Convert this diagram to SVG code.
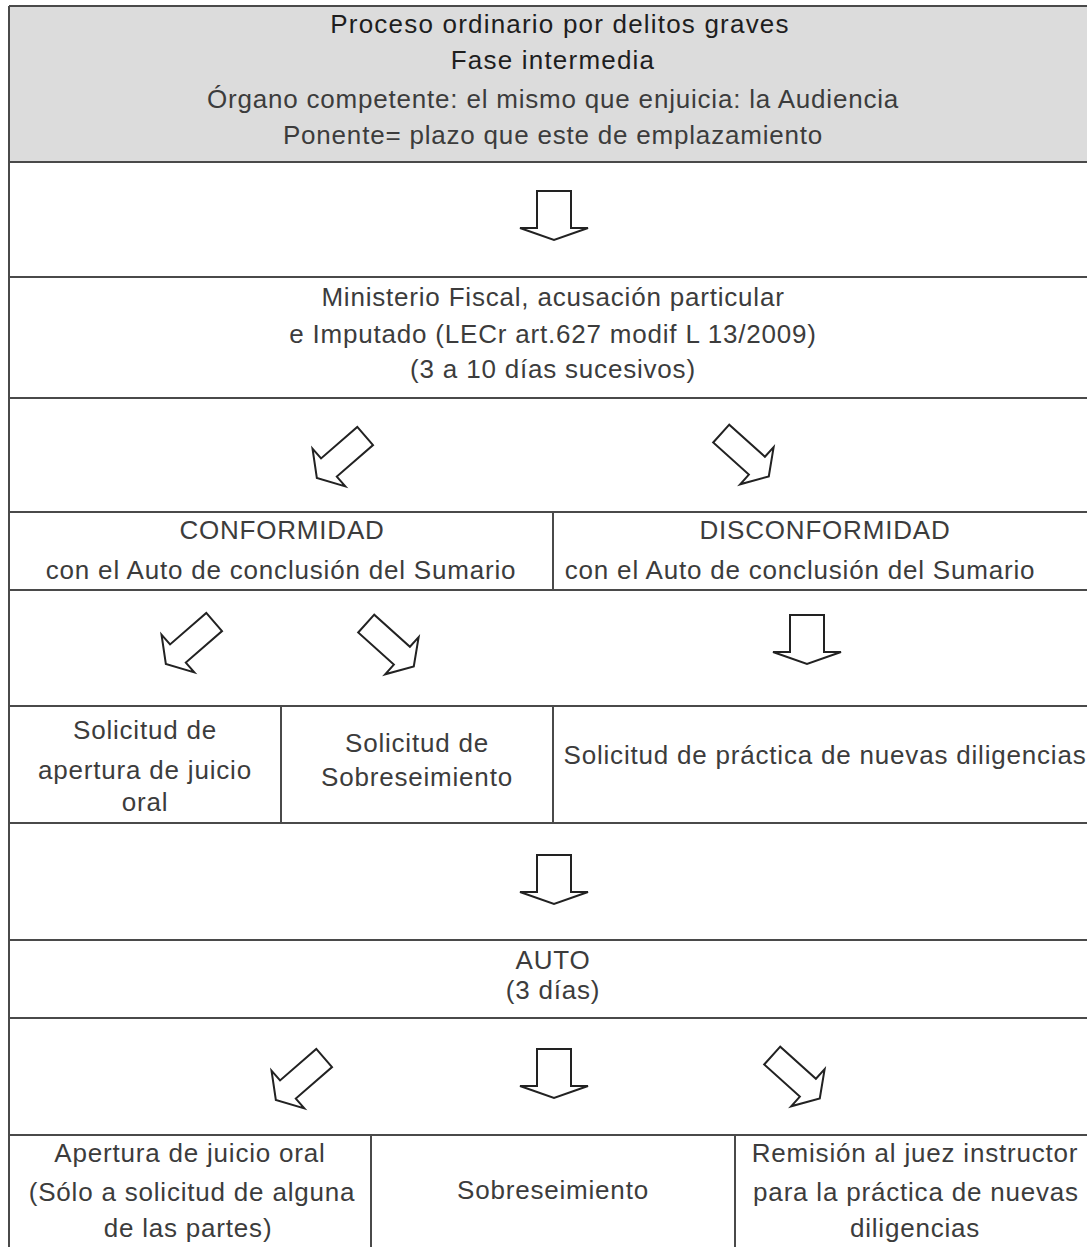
<svg xmlns="http://www.w3.org/2000/svg" width="1087" height="1247" viewBox="0 0 1087 1247">
  <style>
    .rule { stroke: #4a4a4a; stroke-width: 2; fill: none; }
    .head { fill: #dcdcdc; }
    .t { font-family: "Liberation Sans", Arial, sans-serif; font-size: 26px; fill: #3c3c3c; text-anchor: middle; letter-spacing: 0.8px; }
    .h { font-family: "Liberation Sans", Arial, sans-serif; font-size: 26px; fill: #1e1e1e; text-anchor: middle; letter-spacing: 1.2px; }
    .arrow { fill: #fff; stroke: #222; stroke-width: 2; stroke-linejoin: miter; }
  </style>
  <defs>
    <path id="down" d="M-17,-25 L17,-25 L17,12 L34,12 L0,24 L-34,12 L-17,12 Z"/>
    <path id="diag" d="M-12,-32 L12,-32 L12,16 L25,16 L0,32 L-25,16 L-12,16 Z"/>
  </defs>

  <rect width="1087" height="1247" fill="#fff"/>

  <!-- header block -->
  <g id="header">
    <rect class="head" x="9" y="6" width="1078" height="156"/>
    <text class="h" x="560" y="33">Proceso ordinario por delitos graves</text>
    <text class="h" x="553" y="69">Fase intermedia</text>
    <text class="t" x="553" y="108">Órgano competente: el mismo que enjuicia: la Audiencia</text>
    <text class="t" x="553" y="144">Ponente= plazo que este de emplazamiento</text>
  </g>

  <!-- table rules -->
  <g id="grid" class="rule">
    <line x1="9" y1="6" x2="1087" y2="6"/>
    <line x1="9" y1="6" x2="9" y2="1247"/>
    <line x1="9" y1="162" x2="1087" y2="162"/>
    <line x1="9" y1="277" x2="1087" y2="277"/>
    <line x1="9" y1="398" x2="1087" y2="398"/>
    <line x1="9" y1="512" x2="1087" y2="512"/>
    <line x1="9" y1="590" x2="1087" y2="590"/>
    <line x1="9" y1="706" x2="1087" y2="706"/>
    <line x1="9" y1="823" x2="1087" y2="823"/>
    <line x1="9" y1="940" x2="1087" y2="940"/>
    <line x1="9" y1="1018" x2="1087" y2="1018"/>
    <line x1="9" y1="1135" x2="1087" y2="1135"/>
    <line x1="553" y1="512" x2="553" y2="590"/>
    <line x1="281" y1="706" x2="281" y2="823"/>
    <line x1="553" y1="706" x2="553" y2="823"/>
    <line x1="371" y1="1135" x2="371" y2="1247"/>
    <line x1="735" y1="1135" x2="735" y2="1247"/>
  </g>

  <g id="partes">
    <text class="t" x="553" y="306">Ministerio Fiscal, acusación particular</text>
    <text class="t" x="553" y="343">e Imputado (LECr  art.627 modif L 13/2009)</text>
    <text class="t" x="553" y="378">(3 a 10 días sucesivos)</text>
  </g>

  <g id="conformidad">
    <text class="t" x="282" y="539">CONFORMIDAD</text>
    <text class="t" x="281" y="579">con el Auto de conclusión del Sumario</text>
  </g>

  <g id="disconformidad">
    <text class="t" x="825" y="539">DISCONFORMIDAD</text>
    <text class="t" x="800" y="579">con el Auto de conclusión del Sumario</text>
  </g>

  <g id="solicitud-apertura">
    <text class="t" x="145" y="739">Solicitud de</text>
    <text class="t" x="145" y="779">apertura de juicio</text>
    <text class="t" x="145" y="811">oral</text>
  </g>

  <g id="solicitud-sobreseimiento">
    <text class="t" x="417" y="752">Solicitud de</text>
    <text class="t" x="417" y="786">Sobreseimiento</text>
  </g>

  <g id="solicitud-diligencias">
    <text class="t" x="825" y="764">Solicitud de práctica de nuevas diligencias</text>
  </g>

  <g id="auto">
    <text class="t" x="553" y="969">AUTO</text>
    <text class="t" x="553" y="999">(3 días)</text>
  </g>

  <g id="apertura">
    <text class="t" x="190" y="1162">Apertura de juicio oral</text>
    <text class="t" x="192" y="1201">(Sólo a solicitud de alguna</text>
    <text class="t" x="188" y="1237">de las partes)</text>
  </g>

  <g id="sobreseimiento">
    <text class="t" x="553" y="1199">Sobreseimiento</text>
  </g>

  <g id="remision">
    <text class="t" x="915" y="1162">Remisión al juez instructor</text>
    <text class="t" x="916" y="1201">para la práctica de nuevas</text>
    <text class="t" x="915" y="1237">diligencias</text>
  </g>

  <!-- block arrows between rows -->
  <g id="connectors" class="arrow">
    <use href="#down" transform="translate(554,216)"/>
    <use href="#diag" transform="translate(341,457) rotate(49)"/>
    <use href="#diag" transform="translate(745,455) rotate(-48)"/>
    <use href="#diag" transform="translate(190,643) rotate(49)"/>
    <use href="#diag" transform="translate(390,645) rotate(-48)"/>
    <use href="#down" transform="translate(807,640)"/>
    <use href="#down" transform="translate(554,880)"/>
    <use href="#diag" transform="translate(300,1079) rotate(49)"/>
    <use href="#down" transform="translate(554,1074)"/>
    <use href="#diag" transform="translate(796,1077) rotate(-48)"/>
  </g>
</svg>
